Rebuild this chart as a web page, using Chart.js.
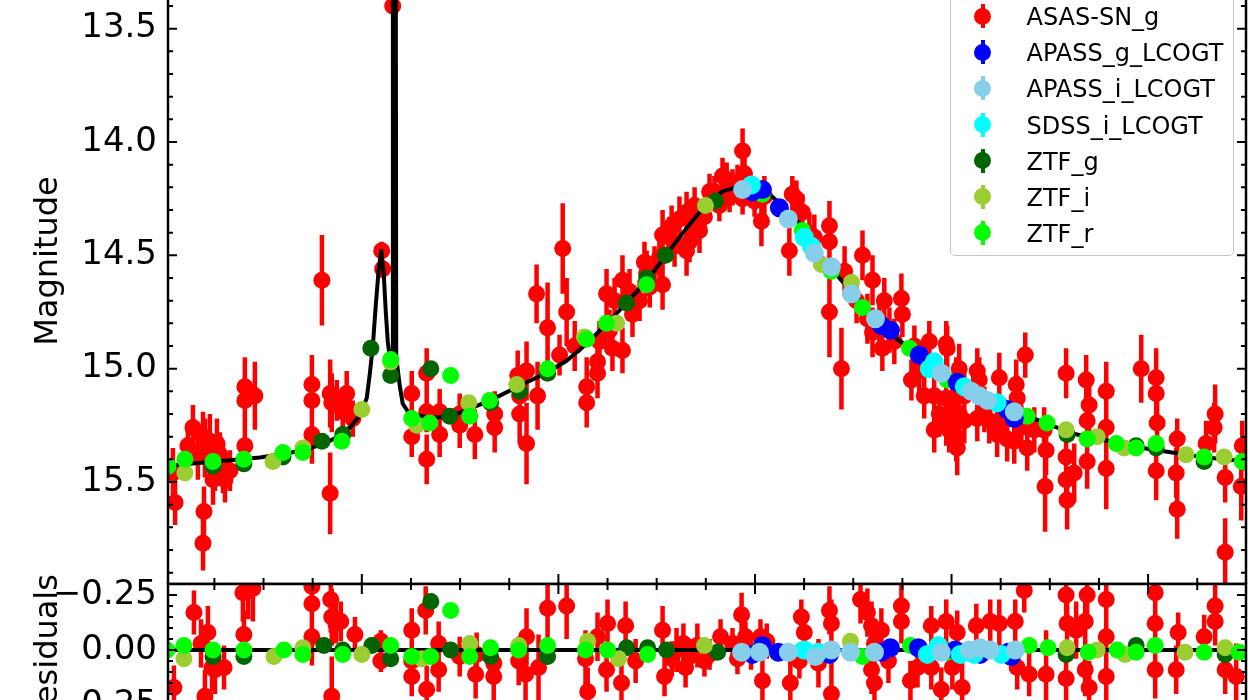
<!DOCTYPE html>
<html>
<head>
<meta charset="utf-8">
<script src="https://cdn.jsdelivr.net/npm/chart.js@4.4.1/dist/chart.umd.min.js"></script>
<style>
  html, body { margin: 0; padding: 0; width: 1250px; height: 700px; overflow: hidden; background: #fff; }
  #topPanel { position: absolute; left: 0; top: -62px; width: 1250px; }
  #resPanel { position: absolute; left: 0; top: 564px; width: 1250px; }
  #legend {
    position: absolute; left: 950px; top: -10px; width: 282px; height: 264px;
    border: 1.5px solid #c4c4c4; border-radius: 5px; background: rgba(255,255,255,0.85);
    font-family: 'DejaVu Sans', sans-serif; font-size: 24px; color: #000;
  }
  #legend .row { position: absolute; left: 0; width: 100%; height: 36px; }
  #legend .bar { position: absolute; left: 29.5px; top: 5px; width: 4px; height: 24px; }
  #legend .dot { position: absolute; left: 23px; top: 8.5px; width: 17px; height: 17px; border-radius: 50%; }
  #legend .txt { position: absolute; left: 75.5px; top: 0; line-height: 36px; white-space: nowrap; }
</style>
</head>
<body>
<div id="topPanel"><canvas id="magChart" width="1250" height="646"></canvas></div>
<div id="resPanel"><canvas id="resChart" width="1250" height="172"></canvas></div>
<div id="legend"></div>
<script>
Chart.defaults.font.family = "'DejaVu Sans', sans-serif";
Chart.defaults.color = '#000';

// axis limits (days, magnitudes, residuals)
const xMin = 1.4, xMax = 549.8;
const magMin = 13.1, magMax = 15.95;
const resMin = -0.3, resMax = 0.3;
const xTickValues = [25, 50, 75, 100, 125, 150, 175, 200, 225, 250, 275, 300, 325, 350, 375, 400, 425, 450, 475, 500, 525];
const xMajorTicks = [100, 200, 300, 400, 500];
const magMajorTicks = [13.5, 14.0, 14.5, 15.0, 15.5];
const resMajorTicks = [-0.25, 0, 0.25];

const seriesNames = ['ASAS-SN_g', 'APASS_g_LCOGT', 'APASS_i_LCOGT', 'SDSS_i_LCOGT', 'ZTF_g', 'ZTF_i', 'ZTF_r'];
const seriesColors = ['#ff0000', '#0000ff', '#87ceeb', '#00ffff', '#006400', '#9acd32', '#00ff00'];

// [day, mag, err]
const asasSN = [
  [3.9,15.46,0.11],[5.0,15.59,0.10],[14.1,15.26,0.10],[19.2,15.30,0.11],[22.7,15.32,0.12],[26.3,15.33,0.11],[20.2,15.35,0.13],
  [19.7,15.63,0.11],[19.2,15.77,0.12],[24.3,15.49,0.11],[25.3,15.44,0.10],[30.4,15.49,0.10],[29.4,15.44,0.11],
  [11.5,15.34,0.10],[16.6,15.38,0.11],[27.8,15.38,0.10],[32.9,15.45,0.09],
  [40.5,15.08,0.13],[40.5,15.14,0.13],[45.6,15.12,0.15],[40.5,15.34,0.11],
  [74.6,15.07,0.13],[74.6,15.14,0.11],[74.6,15.29,0.13],[83.9,15.11,0.15],[84.7,15.15,0.13],[83.9,15.55,0.18],
  [87.3,15.14,0.09],[90.3,15.19,0.09],[93.9,15.19,0.08],[95.4,15.22,0.08],[92.3,15.11,0.10],[79.7,14.61,0.20],
  [110.1,14.48,0.04],[110.6,14.56,0.04],[115.7,13.40,0.03],
  [125.4,15.11,0.10],[125.4,15.30,0.09],[133.0,15.02,0.11],[133.0,15.19,0.09],[133.0,15.40,0.11],[139.6,15.19,0.10],
  [139.6,15.29,0.10],[149.8,15.20,0.09],[149.8,15.25,0.10],[157.5,15.29,0.11],[167.6,15.20,0.10],[167.6,15.26,0.11],
  [179.3,15.03,0.11],[180.3,15.20,0.13],[183.8,15.01,0.13],[183.8,15.33,0.18],[188.9,14.67,0.13],[189.4,15.12,0.15],
  [194.5,14.82,0.20],[202.2,14.47,0.20],[204.2,14.75,0.15],[180.3,15.12,0.11],
  [214.4,15.08,0.13],[214.4,15.15,0.11],[219.9,14.97,0.11],[219.9,15.02,0.11],[224.5,14.67,0.11],[227.5,14.91,0.10],
  [232.6,14.92,0.10],[232.6,14.61,0.11],[237.7,14.76,0.10],[244.9,14.58,0.10],[253.0,14.63,0.11],[253.0,14.41,0.11],
  [256.5,14.42,0.09],[261.6,14.34,0.10],[265.2,14.31,0.09],[265.2,14.48,0.11],[268.2,14.35,0.09],[271.8,14.39,0.10],
  [283.5,14.15,0.08],[285.6,14.17,0.08],[288.6,14.20,0.08],[293.7,14.04,0.10],[294.7,14.14,0.07],[293.7,14.25,0.07],
  [303.3,14.35,0.11],[317.5,14.48,0.11],[319.0,14.23,0.08],
  [241.3,14.70,0.09],[248.9,14.55,0.09],[259.1,14.46,0.09],[274.3,14.33,0.07],[279.4,14.22,0.07],[287.1,14.24,0.07],
  [299.8,14.26,0.07],[226.0,14.83,0.09],[220.9,14.88,0.09],[208.3,14.90,0.11],[200.6,14.94,0.09],[246.5,14.64,0.09],
  [266.7,14.44,0.09],[281.9,14.28,0.07],
  [228.6,14.70,0.10],[236.2,14.66,0.10],[243.8,14.53,0.09],[251.4,14.51,0.09],[257.6,14.37,0.09],[269.3,14.28,0.08],
  [276.9,14.22,0.08],[291.1,14.18,0.08],[304.8,14.24,0.09],
  [321.1,14.25,0.08],[324.1,14.31,0.08],[337.9,14.37,0.11],[337.9,14.44,0.11],[337.9,14.75,0.20],[344.0,15.00,0.18],
  [354.7,14.50,0.11],[359.8,14.61,0.11],[357.2,14.78,0.11],[359.8,14.84,0.11],[364.8,14.91,0.10],[370.9,14.88,0.10],
  [374.5,14.69,0.11],[375.0,14.76,0.10],[379.6,15.05,0.09],[388.7,14.88,0.09],
  [327.7,14.40,0.09],[365.8,14.70,0.10],[368.4,14.83,0.10],[383.6,15.01,0.09],[391.2,15.12,0.10],[406.5,15.23,0.10],
  [330.2,14.42,0.10],[345.6,14.57,0.11],[351.7,14.70,0.10],[363.3,14.79,0.10],[381.1,14.90,0.09],[386.1,15.12,0.10],
  [391.2,15.27,0.10],[406.5,15.12,0.10],[416.7,15.18,0.10],[426.8,15.23,0.10],[442.1,15.27,0.10],
  [397.3,14.89,0.10],[393.8,15.20,0.10],[397.3,15.24,0.10],[402.4,15.30,0.11],[402.9,15.35,0.12],[397.8,14.91,0.10],
  [403.9,15.00,0.11],[402.4,15.05,0.10],[397.3,15.13,0.10],[400.4,15.15,0.10],[403.9,15.20,0.10],[398.8,15.27,0.10],
  [413.1,15.01,0.10],[414.1,15.05,0.10],[413.1,15.22,0.10],[419.2,15.23,0.10],[424.3,15.04,0.11],[423.2,15.29,0.10],
  [428.3,15.31,0.10],[432.9,15.07,0.11],[433.4,15.13,0.10],[437.5,14.94,0.10],[431.9,15.32,0.10],[438.5,15.35,0.10],
  [435.5,15.26,0.10],
  [447.1,15.27,0.10],[448.1,15.36,0.11],[447.6,15.52,0.20],[458.3,15.02,0.11],[458.3,15.39,0.13],[458.3,15.49,0.12],
  [458.8,15.58,0.13],[462.4,15.46,0.13],[468.5,15.05,0.11],[470.0,15.16,0.12],[469.0,15.23,0.11],[469.0,15.41,0.12],
  [478.7,15.10,0.13],[478.7,15.26,0.15],[478.7,15.44,0.18],
  [496.5,15.00,0.15],[504.1,15.04,0.13],[504.1,15.11,0.13],[504.6,15.24,0.13],[504.1,15.45,0.13],[514.8,15.31,0.09],
  [514.3,15.46,0.11],[514.8,15.62,0.13],[529.5,15.33,0.10],[534.1,15.20,0.13],[533.6,15.26,0.11],[539.2,15.48,0.11],
  [539.2,15.81,0.15],[547.4,15.52,0.15],[547.9,15.34,0.11]
];
const apassG = [[298.7,14.22],[303.8,14.21],[312.4,14.29],[364.3,14.81],[368.9,14.83],[383.6,14.94],[402.9,15.06],[428.3,15.18],[431.9,15.22]];
const apassI = [[293.7,14.21],[317.0,14.34],[330.2,14.49],[338.9,14.55],[349.1,14.67],[361.3,14.78],[394.8,15.02],[410.0,15.10],[414.1,15.12],[418.2,15.14],[431.9,15.19]];
const sdssI = [[298.2,14.19],[325.1,14.42],[328.7,14.46],[391.2,14.97],[388.7,15.00],[406.5,15.08],[423.2,15.15]];
const ztfG = [[24.3,15.43],[40.0,15.42],[59.9,15.39],[79.7,15.32],[90.3,15.29],[104.6,14.91],[114.7,15.03],[135.1,15.00],[144.7,15.21],
  [165.5,15.15],[180.3,15.10],[194.5,15.02],[234.7,14.71],[244.9,14.60],[254.5,14.50],[279.9,14.26],[458.8,15.29],[493.9,15.34],[504.1,15.35],[528.5,15.41]];
const ztfI = [[10.0,15.46],[54.8,15.41],[70.0,15.35],[100.0,15.18],[114.7,14.97],[128.0,15.25],[154.4,15.15],[178.8,15.07],[213.3,14.86],
  [229.6,14.80],[274.8,14.28],[333.8,14.54],[349.1,14.62],[458.3,15.27],[474.1,15.30],[487.8,15.35],[519.3,15.38],[538.7,15.39]];
const ztfR = [[1.4,15.43],[10.0,15.40],[24.3,15.41],[40.0,15.40],[59.9,15.37],[70.0,15.37],[89.8,15.32],[114.7,14.96],[125.4,15.22],
  [134.5,15.24],[145.2,15.03],[154.9,15.21],[165.0,15.14],[194.5,15.00],[214.4,14.87],[224.5,14.80],[244.9,14.63],[303.8,14.23],
  [324.1,14.39],[338.9,14.57],[354.7,14.73],[378.6,14.91],[397.8,15.05],[438.5,15.21],[448.6,15.24],[469.0,15.31],[483.8,15.33],
  [493.9,15.35],[504.1,15.33],[528.5,15.39],[547.9,15.41]];

// fitted model [day, mag]
const modelCurve = [
  [1.4,15.427],[14.1,15.418],[31.4,15.405],[48.1,15.392],[61.9,15.374],[73.6,15.352],[82.2,15.326],[88.8,15.295],[93.9,15.26],
  [99.0,15.207],[102.5,15.13],[104.1,15.02],[105.6,14.90],[107.1,14.72],[108.6,14.56],[109.9,14.48],[111.2,14.59],[112.2,14.75],
  [113.2,14.88],[114.2,14.95],[115.5,14.95],[115.8,13.34],[117.3,13.34],[117.5,14.95],[119.3,15.075],[120.8,15.154],[124.2,15.199],
  [134.6,15.216],[144.7,15.212],[155.0,15.176],[165.1,15.141],[180.3,15.075],[194.0,15.018],[204.2,14.965],[214.4,14.89],
  [224.5,14.802],[234.7,14.71],[244.9,14.613],[255.1,14.495],[265.2,14.38],[275.3,14.275],[283.5,14.218],[292.1,14.196],
  [298.7,14.196],[307.4,14.231],[316.0,14.297],[322.6,14.358],[332.8,14.495],[342.9,14.6],[353.1,14.701],[363.3,14.802],
  [373.4,14.877],[383.6,14.934],[393.8,14.996],[404.0,15.053],[414.1,15.097],[427.8,15.172],[444.6,15.229],[461.4,15.286],
  [478.6,15.317],[495.4,15.348],[512.2,15.37],[529.5,15.392],[549.8,15.409]
];

// residuals [day, residual, err]
const asasSNRes = [
  [4.4,0.17,0.10],[14.6,-0.17,0.10],[18.2,-0.03,0.11],[21.7,-0.08,0.12],[23.8,0.08,0.11],[25.3,0.09,0.11],[29.9,0.08,0.10],
  [20.2,0.21,0.12],[39.5,-0.26,0.13],[42.1,-0.27,0.13],[44.6,-0.28,0.15],[40.0,-0.07,0.11],[74.6,-0.29,0.13],[74.6,-0.21,0.11],
  [74.6,-0.06,0.13],[84.2,-0.23,0.15],[84.7,-0.15,0.13],[86.8,-0.12,0.09],[89.3,-0.13,0.09],[84.7,0.21,0.18],[96.5,-0.07,0.08],
  [109.7,-0.04,0.05],[109.7,0.05,0.05],[125.4,-0.09,0.10],[125.4,0.05,0.09],[125.4,0.12,0.09],[132.5,-0.18,0.11],[133.0,0.18,0.11],
  [139.1,-0.03,0.10],[139.1,0.09,0.10],[149.8,0.03,0.09],[157.9,0.11,0.11],[158.4,0.02,0.10],[167.1,0.06,0.10],[167.1,0.12,0.11],
  [179.8,0.05,0.11],[183.3,0.11,0.13],[183.8,-0.06,0.13],[189.9,0.08,0.15],[194.5,-0.19,0.20],[204.2,-0.20,0.15],[213.8,0.04,0.13],
  [214.9,0.19,0.11],[219.9,-0.06,0.11],[225.0,-0.12,0.11],[224.5,0.09,0.10],[232.1,0.15,0.10],[234.2,-0.11,0.11],[239.3,0.05,0.10],
  [253.0,-0.09,0.11],[254.0,0.12,0.09],[260.1,0.00,0.10],[263.6,-0.03,0.09],[264.7,0.08,0.09],[270.7,-0.02,0.10],[266.7,0.03,0.08],
  [257.7,0.04,0.08],[276.9,0.02,0.07],[288.6,-0.03,0.07],[291.1,0.04,0.07],[298.0,0.01,0.08],[306.0,-0.04,0.08],
  [274.3,0.05,0.07],[282.5,-0.06,0.08],[293.2,-0.16,0.10],[295.2,-0.06,0.07],[302.8,-0.06,0.08],[303.8,0.14,0.11],[318.0,0.15,0.11],
  [323.6,-0.15,0.08],[325.1,-0.08,0.08],[322.6,0.05,0.08],[332.3,0.06,0.11],[337.9,-0.18,0.11],[338.9,-0.12,0.11],[338.9,0.20,0.18],
  [353.7,-0.23,0.11],[357.2,-0.17,0.11],[359.3,-0.11,0.11],[360.8,-0.03,0.10],[359.3,0.09,0.11],[360.8,0.15,0.10],[364.3,-0.09,0.10],
  [374.5,-0.20,0.11],[374.5,-0.13,0.10],[367.9,0.05,0.10],[379.1,0.14,0.09],[382.7,0.08,0.09],[389.7,-0.11,0.09],[397.3,-0.13,0.10],
  [402.9,-0.08,0.10],[389.7,0.08,0.10],[394.8,0.18,0.10],[400.4,0.08,0.10],[405.4,0.17,0.11],[412.6,-0.11,0.10],[419.7,-0.13,0.10],
  [424.3,-0.12,0.11],[432.4,-0.13,0.10],[437.0,-0.27,0.10],[433.4,0.08,0.10],[439.5,0.11,0.10],[448.1,0.11,0.20],[458.3,-0.25,0.11],
  [458.8,-0.12,0.13],[458.3,0.13,0.12],[463.4,-0.09,0.13],[468.0,-0.13,0.12],[469.0,-0.25,0.11],[468.0,0.09,0.12],[470.0,0.17,0.12],
  [478.7,-0.23,0.13],[478.7,-0.06,0.15],[478.7,0.12,0.18],[503.6,-0.26,0.15],[503.6,-0.12,0.13],[503.6,0.09,0.13],[515.3,-0.08,0.09],
  [514.3,0.09,0.11],[528.5,-0.06,0.10],[534.1,-0.20,0.13],[534.1,-0.13,0.11],[539.2,0.09,0.11],[544.8,0.12,0.15]
];
const apassGRes = [[298.7,0.02],[303.8,-0.02],[311.9,0.01],[337.9,0.02],[364.3,0.01],[368.9,-0.01],[383.1,-0.01],[401.9,0.00],[414.6,0.02],[428.8,0.01],[430.4,0.03]];
const apassIRes = [[293.2,0.01],[302.3,0.01],[317.0,0.01],[330.7,0.03],[338.9,0.00],[348.6,0.01],[360.8,0.01],[394.8,0.01],[409.0,0.00],[414.6,-0.01],[419.7,0.00],[432.4,0.00]];
const sdssIRes = [[325.1,0.00],[332.3,0.01],[387.7,0.02],[393.3,-0.02],[404.4,0.02],[411.6,0.02],[425.3,0.02]];
const ztfGRes = [[24.3,0.03],[40.0,0.03],[80.7,-0.02],[90.3,0.00],[105.1,-0.02],[114.7,0.04],[135.1,-0.22],[145.2,0.00],[165.5,0.03],
  [194.5,0.03],[234.7,-0.01],[245.4,-0.01],[255.0,0.00],[281.0,0.01],[458.3,0.02],[493.9,-0.02],[539.2,0.02]];
const ztfIRes = [[9.5,0.04],[55.3,0.03],[70.0,-0.01],[100.0,0.02],[130.5,0.04],[154.9,-0.03],[179.8,-0.02],[214.9,-0.04],[230.6,0.04],
  [274.3,-0.02],[348.6,-0.04],[458.8,-0.01],[474.1,0.00],[488.3,0.02],[518.8,0.01],[539.2,-0.01]];
const ztfRRes = [[0.9,0.00],[9.5,-0.02],[24.3,0.00],[40.0,0.00],[60.4,0.00],[70.0,0.02],[90.3,0.02],[114.7,-0.02],[125.4,0.03],
  [135.1,0.03],[145.2,-0.18],[154.9,0.03],[165.5,-0.01],[179.8,0.00],[194.5,-0.02],[213.8,0.00],[225.0,0.00],[245.4,0.02],
  [303.8,0.00],[324.1,0.00],[354.7,0.03],[379.1,-0.02],[397.8,0.01],[439.5,-0.02],[449.1,-0.01],[469.5,0.01],[484.3,0.00],
  [493.9,0.01],[503.6,-0.02],[528.5,0.01],[546.3,0.01]];
const zeroLine = [[xMin, 0], [xMax, 0]];

const magSeries = [asasSN, apassG, apassI, sdssI, ztfG, ztfI, ztfR];
const resSeries = [asasSNRes, apassGRes, apassIRes, sdssIRes, ztfGRes, ztfIRes, ztfRRes];
// bigger order = drawn further back
const seriesOrder = [10, 5, 3, 4, 8, 7, 6];
const seriesRadius = [8.5, 9.5, 9.5, 9.5, 8.5, 8.5, 8.5];

function toPoints(rows) {
  return rows.map(r => ({x: r[0], y: r[1], err: r[2] || 0}));
}

function buildDatasets(series, lineRows) {
  const sets = series.map((rows, i) => ({
    label: seriesNames[i],
    data: toPoints(rows),
    backgroundColor: seriesColors[i],
    errColor: seriesColors[i],
    pointRadius: seriesRadius[i],
    pointBorderWidth: 0,
    order: seriesOrder[i],
    clip: 0
  }));
  sets.push({
    label: 'model',
    data: toPoints(lineRows),
    showLine: true,
    borderColor: '#000',
    borderWidth: 4,
    borderJoinStyle: 'round',
    pointRadius: 0,
    tension: 0,
    order: 9,
    clip: 0
  });
  return sets;
}

// vertical error bars, drawn just under each dataset's markers
const errorBars = {
  id: 'errorBars',
  beforeDatasetDraw(chart, args) {
    const ds = chart.data.datasets[args.index];
    if (!ds.errColor) return;
    const {ctx, chartArea: a} = chart;
    const xs = chart.scales.x, ys = chart.scales.y;
    ctx.save();
    ctx.beginPath();
    ctx.rect(a.left, a.top, a.right - a.left, a.bottom - a.top);
    ctx.clip();
    ctx.strokeStyle = ds.errColor;
    ctx.lineWidth = 4.5;
    ctx.beginPath();
    ds.data.forEach(p => {
      if (!p.err) return;
      const px = xs.getPixelForValue(p.x);
      ctx.moveTo(px, ys.getPixelForValue(p.y - p.err));
      ctx.lineTo(px, ys.getPixelForValue(p.y + p.err));
    });
    ctx.stroke();
    ctx.restore();
  }
};

// matplotlib-like frame with inward ticks on all four sides
const frameTicks = {
  id: 'frameTicks',
  afterDraw(chart) {
    const {ctx, chartArea: a} = chart;
    const xs = chart.scales.x, ys = chart.scales.y;
    ctx.save();
    ctx.strokeStyle = '#000';
    ctx.lineWidth = 2;
    ctx.beginPath();
    xs.ticks.forEach(t => {
      const px = xs.getPixelForValue(t.value);
      const len = t.major ? 10 : 6;
      ctx.moveTo(px, a.bottom); ctx.lineTo(px, a.bottom - len);
      ctx.moveTo(px, a.top); ctx.lineTo(px, a.top + len);
    });
    ys.ticks.forEach(t => {
      const py = ys.getPixelForValue(t.value);
      const len = t.major ? 9 : 5;
      ctx.moveTo(a.left, py); ctx.lineTo(a.left + len, py);
      ctx.moveTo(a.right, py); ctx.lineTo(a.right - len, py);
    });
    ctx.stroke();
    ctx.lineWidth = 2.5;
    ctx.strokeRect(a.left, a.top, a.right - a.left, a.bottom - a.top);
    ctx.restore();
  }
};

function stepTicks(min, max, step) {
  const out = [];
  for (let v = Math.ceil(min / step - 1e-9) * step; v <= max + 1e-9; v += step) {
    out.push(Math.round(v * 100) / 100);
  }
  return out;
}

function xScale() {
  return {
    type: 'linear', min: xMin, max: xMax,
    afterBuildTicks: s => { s.ticks = xTickValues.map(v => ({value: v, major: xMajorTicks.includes(v)})); },
    afterFit: s => { s.height = 0; s.paddingLeft = 0; s.paddingRight = 0; },
    grid: {display: false, drawTicks: false},
    border: {display: false},
    ticks: {display: false}
  };
}

function yScale(min, max, values, majors, fmt, title) {
  return {
    type: 'linear', reverse: true, min: min, max: max,
    afterBuildTicks: s => { s.ticks = values.map(v => ({value: v, major: majors.includes(v)})); },
    afterFit: s => { s.width = 168; s.paddingTop = 0; s.paddingBottom = 0; },
    grid: {display: false, drawTicks: false},
    border: {display: false},
    ticks: {
      padding: 11, autoSkip: false, color: '#000',
      font: {size: 34},
      callback: v => majors.includes(v) ? fmt(v) : ''
    },
    title: {display: true, text: title, color: '#000', font: {size: 32}, padding: {top: 29, bottom: 0}}
  };
}

const baseOptions = {
  responsive: false,
  animation: false,
  events: [],
  plugins: {legend: {display: false}, tooltip: {enabled: false}}
};

const magChart = new Chart(document.getElementById('magChart'), {
  type: 'scatter',
  data: {datasets: buildDatasets(magSeries, modelCurve)},
  options: Object.assign({}, baseOptions, {
    layout: {autoPadding: false, padding: {left: 0, right: 4, top: 0, bottom: 0}},
    scales: {
      x: xScale(),
      y: yScale(magMin, magMax, stepTicks(magMin, magMax, 0.1), magMajorTicks, v => v.toFixed(1), 'Magnitude')
    }
  }),
  plugins: [errorBars, frameTicks]
});

const resChart = new Chart(document.getElementById('resChart'), {
  type: 'scatter',
  data: {datasets: buildDatasets(resSeries, zeroLine)},
  options: Object.assign({}, baseOptions, {
    layout: {autoPadding: false, padding: {left: 0, right: 4, top: 20, bottom: 20}},
    scales: {
      x: xScale(),
      y: yScale(resMin, resMax, stepTicks(resMin, resMax, 0.05), resMajorTicks,
        v => (v < 0 ? '\u2212' : '') + Math.abs(v).toFixed(2), 'Residuals')
    }
  }),
  plugins: [errorBars, frameTicks]
});

// keep each plot box where the reference has it (top -62..584, residuals 584..716)
function placePanel(chart, wrapId, wantTop, wantHeight) {
  let a = chart.chartArea;
  const h = a.bottom - a.top;
  if (Math.abs(h - wantHeight) > 0.5) {
    chart.resize(chart.width, Math.round(chart.height + wantHeight - h));
    a = chart.chartArea;
  }
  document.getElementById(wrapId).style.top = (wantTop - a.top) + 'px';
}
placePanel(magChart, 'topPanel', -62, 646);
placePanel(resChart, 'resPanel', 584, 132);

// legend, built from the same series lists
const legendEl = document.getElementById('legend');
seriesNames.forEach((name, i) => {
  const row = document.createElement('div');
  row.className = 'row';
  row.style.top = (8.2 + i * 36.1) + 'px';
  const bar = document.createElement('span');
  bar.className = 'bar';
  bar.style.background = seriesColors[i];
  const dot = document.createElement('span');
  dot.className = 'dot';
  dot.style.background = seriesColors[i];
  const txt = document.createElement('span');
  txt.className = 'txt';
  txt.textContent = name;
  row.appendChild(bar);
  row.appendChild(dot);
  row.appendChild(txt);
  legendEl.appendChild(row);
});
</script>
</body>
</html>
